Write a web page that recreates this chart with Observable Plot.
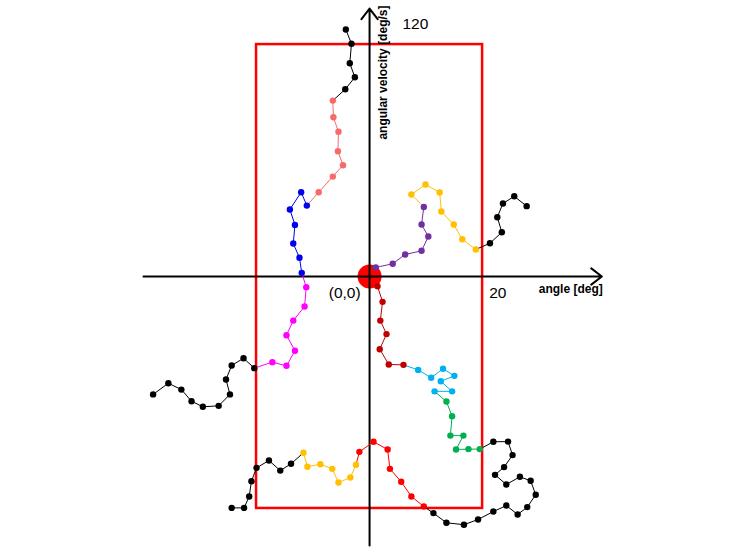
<!DOCTYPE html>
<html>
<head>
<meta charset="utf-8">
<script src="https://cdn.jsdelivr.net/npm/d3@7"></script>
<script src="https://cdn.jsdelivr.net/npm/@observablehq/plot@0.6"></script>
<style>
  html, body { margin: 0; padding: 0; background: #fff; }
  svg { display: block; }
</style>
</head>
<body>
<div id="chart"></div>
<pre id="err"></pre>
<script>
try {
// ---- data (angle [deg], angular velocity [deg/s]) ----
const topBlack = [[-4.3,96.9],[-2.6,103.1],[-3.5,110.3],[-3.2,120.4],[-4.2,127.8]];
const salmon = [[-9.0,43.6],[-6.5,51.7],[-4.7,57.6],[-5.6,64.8],[-5.5,74.9],[-6.4,82.4],[-6.5,91.0]];
const blue = [[-12.0,1.9],[-12.4,9.7],[-13.5,17.1],[-13.2,26.7],[-14.1,34.7],[-12.1,43.6],[-11.1,36.7]];
const magenta = [[-17.2,-44.3],[-14.7,-46.2],[-13.2,-38.4],[-14.7,-30.4],[-13.5,-22.8],[-11.5,-15.5],[-11.2,-5.5]];
const leftBlack = [[-38.3,-61.0],[-35.6,-55.2],[-33.3,-58.5],[-31.5,-64.5],[-29.5,-67.4],[-26.7,-66.9],[-24.7,-61.0],[-25.4,-53.3],[-24.4,-46.0],[-22.3,-42.3],[-20.4,-47.4]];

const purple = [[1.1,4.7],[4.1,6.6],[6.3,11.4],[9.2,13.3],[10.4,20.7],[9.2,26.9],[9.6,36.0]];
const gold = [[7.4,42.4],[9.9,47.6],[12.4,43.5],[12.7,33.6],[14.9,26.9],[16.4,19.3],[18.8,14.0]];
const rightBlack = [[21.3,17.2],[23.4,22.9],[22.6,30.7],[23.6,37.8],[25.6,41.5],[27.8,36.4]];

const darkRed = [[1.4,-5.0],[2.3,-13.1],[1.9,-22.8],[3.0,-29.8],[1.8,-37.6],[3.4,-45.5],[6.0,-45.7]];
const cyan = [[8.6,-48.3],[10.9,-52.4],[13.0,-47.7],[15.0,-51.4],[12.6,-54.2],[14.6,-59.4],[11.5,-59.4]];
const green = [[13.6,-64.7],[14.6,-72.3],[14.3,-82.3],[16.6,-82.3],[15.3,-89.5],[17.5,-89.3],[19.5,-89.3]];
const lowerRightBlack = [[21.9,-85.5],[24.5,-85.4],[25.3,-92.4],[23.8,-98.6],[22.2,-102.6],[24.2,-107.6],[26.6,-103.6],[28.5,-105.7],[29.4,-112.9],[27.9,-119.3],[26.2,-123.1],[24.2,-118.5],[21.9,-121.6],[19.2,-125.7],[16.7,-128.4],[13.6,-127.4],[11.3,-122.4]];
const red = [[9.6,-119.0],[7.4,-113.8],[5.6,-106.2],[3.6,-99.5],[3.2,-89.5],[0.7,-85.5],[-1.8,-90.7]];
const gold2 = [[-2.4,-97.4],[-3.4,-104.0],[-5.5,-106.6],[-6.6,-99.5],[-8.7,-97.1],[-11.0,-98.4],[-11.7,-91.2]];
const lowerLeftBlack = [[-13.9,-96.9],[-15.8,-100.4],[-17.8,-95.2],[-20.0,-99.0],[-20.9,-105.9],[-21.3,-113.8],[-22.2,-119.7],[-24.4,-119.7]];

const segs = {
  topBlack: {pts: topBlack, color: "#000000"},
  salmon: {pts: salmon, color: "#f86a6a"},
  blue: {pts: blue, color: "#0000ee"},
  magenta: {pts: magenta, color: "#ff00ff"},
  leftBlack: {pts: leftBlack, color: "#000000"},
  purple: {pts: purple, color: "#7030a0"},
  gold: {pts: gold, color: "#ffc000"},
  rightBlack: {pts: rightBlack, color: "#000000"},
  darkRed: {pts: darkRed, color: "#c00000"},
  cyan: {pts: cyan, color: "#00b0f0"},
  green: {pts: green, color: "#00b050"},
  lowerRightBlack: {pts: lowerRightBlack, color: "#000000"},
  red: {pts: red, color: "#ff0000"},
  gold2: {pts: gold2, color: "#ffc000"},
  lowerLeftBlack: {pts: lowerLeftBlack, color: "#000000"}
};

const chains = [
  {order: ["leftBlack","magenta","blue","salmon","topBlack"], joins: ["magenta","magenta","salmon","topBlack"]},
  {order: ["purple","gold","rightBlack"], joins: ["gold","rightBlack"]},
  {order: ["darkRed","cyan","green","lowerRightBlack","red","gold2","lowerLeftBlack"], joins: ["cyan","green","lowerRightBlack","lowerRightBlack","red","lowerLeftBlack"]}
];

const boxX = [-20, 20];
const boxY = [-120, 120];
const axisX = [-40.0, 41.1];
const axisY = [-139.2, 138.6];

const links = [];
const dots = [];
for (const ch of chains) {
  ch.order.forEach((segName, si) => {
    const s = segs[segName];
    s.pts.forEach((p, i) => {
      dots.push({x: p[0], y: p[1], color: s.color});
      if (i > 0) {
        const q = s.pts[i - 1];
        links.push({x1: q[0], y1: q[1], x2: p[0], y2: p[1], color: s.color});
      }
    });
    if (si > 0) {
      const prev = segs[ch.order[si - 1]].pts;
      const q = prev[prev.length - 1];
      const p = s.pts[0];
      links.push({x1: q[0], y1: q[1], x2: p[0], y2: p[1], color: segs[ch.joins[si - 1]].color});
    }
  });
}

const font = "'Liberation Sans', Arial, sans-serif";
const labels = [
  {x: 8.1, y: 130.4, t: "120", size: 15.5, weight: "normal"},
  {x: 22.7, y: -8.3, t: "20", size: 15.5, weight: "normal"},
  {x: -4.4, y: -8.3, t: "(0,0)", size: 15.5, weight: "normal"},
  {x: 35.6, y: -6.7, t: "angle [deg]", size: 12, weight: "bold"}
];

const chart = Plot.plot({
  width: 737,
  height: 553,
  margin: 0,
  style: {background: "#fff", fontFamily: font},
  x: {domain: [-65.3, 65.1], axis: null},
  y: {domain: [-143.3, 142.8], axis: null},
  marks: [
    Plot.rect([{x1: boxX[0], x2: boxX[1], y1: boxY[0], y2: boxY[1]}], {x1: "x1", x2: "x2", y1: "y1", y2: "y2", fill: "none", stroke: "#ff0000", strokeWidth: 2.5}),
    Plot.dot([{x: 0, y: 0}], {x: "x", y: "y", r: 12, fill: "#ff0000", stroke: "none"}),
    Plot.arrow([{x1: axisX[0], x2: axisX[1], y1: 0, y2: 0}], {x1: "x1", x2: "x2", y1: "y1", y2: "y2", stroke: "#000", strokeWidth: 2, headLength: 10, headAngle: 75}),
    Plot.arrow([{x1: 0, x2: 0, y1: axisY[0], y2: axisY[1]}], {x1: "x1", x2: "x2", y1: "y1", y2: "y2", stroke: "#000", strokeWidth: 2, headLength: 10, headAngle: 75}),
    ...links.map(l => Plot.link([l], {x1: "x1", y1: "y1", x2: "x2", y2: "y2", stroke: l.color, strokeWidth: 1})),
    ...dots.map(d => Plot.dot([d], {x: "x", y: "y", r: 3.2, fill: d.color, stroke: "none"})),
    ...labels.map(l => Plot.text([l], {x: "x", y: "y", text: "t", fontSize: l.size, fontWeight: l.weight, fill: "#000", textAnchor: "middle"})),
    Plot.text([{x: 2.4, y: 140.2, t: "angular velocity [deg/s]"}], {x: "x", y: "y", text: "t", fontSize: 12, fontWeight: "bold", fill: "#000", rotate: -90, textAnchor: "end"})
  ]
});
document.getElementById("chart").appendChild(chart);
} catch (e) {
  document.getElementById("err").textContent = e.stack;
}
</script>
</body>
</html>
